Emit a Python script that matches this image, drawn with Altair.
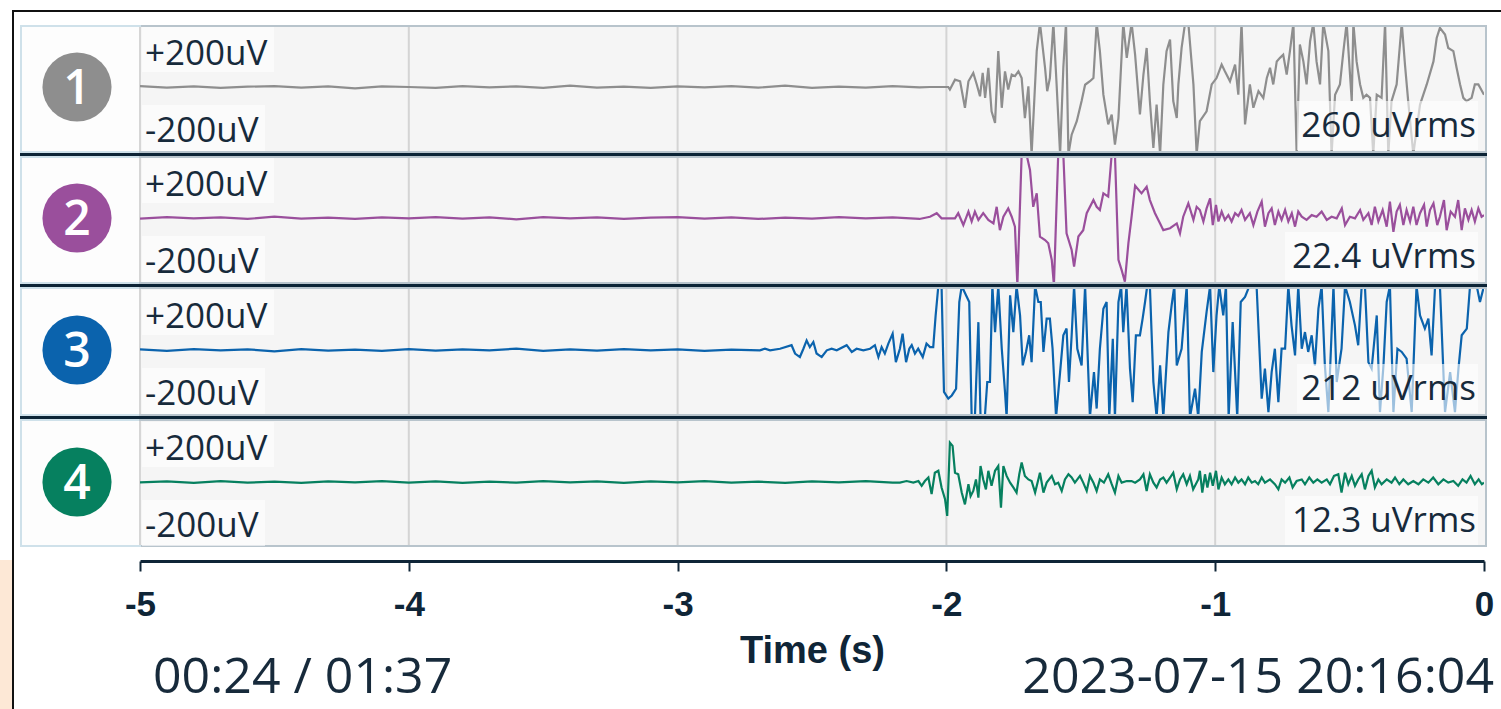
import math
import json
import altair as alt
import pandas as pd

# ---------------- data ----------------
CHANNELS = [1, 2, 3, 4]
COLORS = ["#8e8e8e", "#9a4f9c", "#0b63ad", "#06805f"]
RMS_LABELS = ["260 uVrms", "22.4 uVrms", "212 uVrms", "12.3 uVrms"]
SCALE_TOP = "+200uV"
SCALE_BOT = "-200uV"
X_TICKS = [-5, -4, -3, -2, -1, 0]
GRID_T = [-4, -3, -2, -1]
PLAYBACK = "00:24 / 01:37"
STAMP = "2023-07-15 20:16:04"
X_TITLE = "Time (s)"

QUIET_T = [-5.0, -4.9, -4.8, -4.7, -4.6, -4.5, -4.4, -4.3, -4.2, -4.1,
           -4.0, -3.9, -3.8, -3.7, -3.6, -3.5, -3.4, -3.3, -3.2, -3.1,
           -3.0, -2.9, -2.8, -2.7, -2.6, -2.5, -2.4, -2.3, -2.2, -2.1]
Q1 = [3, -2, 2, -3, 1, 3, -2, 2, -4, 2, 0, -3, 3, -1, 2, -3, 4, -2, 1, -3, 2, -1, 3, -2, 4, -3, 1, -2, 3, -1]
Q2 = [-2, 3, -1, 2, -3, 4, -2, 1, -3, 2, -1, 3, -2, 2, -4, 3, -1, 2, -3, 1, 3, -2, 2, -3, 1, -2, 3, -1, 2, -3]
Q3 = [2, -3, 3, -1, 2, -4, 3, -2, 1, -3, 3, -2, 2, -1, 4, -3, 2, -2, 3, -1, 2, -3, 1, -2]
Q4 = [-1, 2, -3, 3, -2, 1, -3, 2, -1, 3, -2, 2, -3, 1, -2, 3, -1, 2, -3, 2, -1, 3, -2, 1, -3, 2, -1, 3, -2]

CH1 = [(-2.061, 0), (-1.993, 0), (-1.987, -8), (-1.968, 23), (-1.949, 18), (-1.931, -65), (-1.918, 18),
       (-1.900, 44), (-1.887, 8), (-1.875, -29), (-1.865, 44), (-1.856, -34), (-1.844, 60), (-1.832, -76),
       (-1.819, -112), (-1.807, 112), (-1.794, -65), (-1.782, 49), (-1.770, -8), (-1.757, 39), (-1.745, 34),
       (-1.732, 49), (-1.720, 28), (-1.708, -97), (-1.695, 2), (-1.683, -300), (-1.664, 112), (-1.652, 300),
       (-1.633, 60), (-1.625, -13), (-1.615, 28), (-1.602, 300), (-1.590, 8), (-1.577, -300), (-1.565, 60),
       (-1.555, 300), (-1.546, -300), (-1.534, -149), (-1.515, -107), (-1.497, -44), (-1.484, 7), (-1.466, 18),
       (-1.453, 28), (-1.441, 300), (-1.429, 112), (-1.416, -24), (-1.398, -117), (-1.385, -86), (-1.373, -180),
       (-1.360, -97), (-1.342, 300), (-1.329, 91), (-1.311, 300), (-1.298, 101), (-1.280, -86), (-1.267, 39),
       (-1.255, 122), (-1.243, -44), (-1.230, -190), (-1.218, -55), (-1.205, -300), (-1.193, 7), (-1.181, 112),
       (-1.168, 148), (-1.156, -44), (-1.143, -97), (-1.137, 8), (-1.125, 122), (-1.112, 300), (-1.100, 300),
       (-1.081, 8), (-1.069, -300), (-1.057, -107), (-1.032, -76), (-1.013, 8), (-0.995, 28), (-0.976, 70),
       (-0.964, 49), (-0.945, 18), (-0.926, 70), (-0.914, -24), (-0.902, 300), (-0.889, -117), (-0.871, 8),
       (-0.858, -65), (-0.839, -13), (-0.821, -34), (-0.808, 28), (-0.796, 60), (-0.784, 8), (-0.771, 80),
       (-0.759, 91), (-0.747, 101), (-0.734, 39), (-0.722, 112), (-0.709, 300), (-0.697, -300), (-0.685, 133),
       (-0.672, 80), (-0.660, 8), (-0.647, 143), (-0.635, 300), (-0.623, 80), (-0.610, 8), (-0.598, 300),
       (-0.579, 112), (-0.567, -300), (-0.554, -24), (-0.536, 8), (-0.523, 112), (-0.511, 300), (-0.492, -44),
       (-0.486, 300), (-0.474, 80), (-0.461, 8), (-0.449, -34), (-0.437, -24), (-0.424, -34), (-0.412, -300),
       (-0.399, -24), (-0.381, -34), (-0.368, 300), (-0.356, -300), (-0.344, -44), (-0.325, 8), (-0.306, 300),
       (-0.294, 70), (-0.282, -44), (-0.263, -300), (-0.238, -55), (-0.213, 8), (-0.188, 80), (-0.176, 153),
       (-0.164, 185), (-0.145, 164), (-0.133, 122), (-0.114, 112), (-0.102, 60), (-0.089, 8), (-0.077, -34),
       (-0.065, -44), (-0.046, -34), (-0.034, 8), (-0.021, 8), (0.0, -24)]

CH2 = [(-2.061, 4), (-2.036, 15), (-2.018, -1), (-1.968, -1), (-1.956, 15), (-1.937, -22), (-1.918, 20),
       (-1.906, -11), (-1.894, 20), (-1.881, -6), (-1.863, 15), (-1.844, -6), (-1.825, -17), (-1.813, 35),
       (-1.801, -38), (-1.788, 4), (-1.770, 30), (-1.757, 4), (-1.745, -27), (-1.736, -300), (-1.720, 210),
       (-1.701, 195), (-1.689, 150), (-1.677, 35), (-1.664, 77), (-1.652, -58), (-1.633, -69), (-1.621, -79),
       (-1.608, -131), (-1.600, -300), (-1.584, 300), (-1.565, 300), (-1.553, -48), (-1.534, -100),
       (-1.525, -152), (-1.509, -58), (-1.491, -38), (-1.478, 15), (-1.453, 56), (-1.441, 35), (-1.429, 25),
       (-1.416, 77), (-1.398, 67), (-1.385, 300), (-1.373, 300), (-1.360, -131), (-1.348, -163),
       (-1.336, -199), (-1.323, -79), (-1.311, 4), (-1.298, 101), (-1.274, 77), (-1.255, 98), (-1.243, 56),
       (-1.224, 15), (-1.205, -17), (-1.193, -38), (-1.168, -32), (-1.143, -17), (-1.131, -48), (-1.119, 4),
       (-1.100, 46), (-1.081, -6), (-1.069, 35), (-1.057, 25), (-1.044, -11), (-1.032, 30), (-1.019, 61),
       (-1.009, -22), (-0.997, 41), (-0.988, -11), (-0.976, 20), (-0.964, -6), (-0.951, 9), (-0.939, -11),
       (-0.926, 15), (-0.914, 6), (-0.902, 25), (-0.889, -6), (-0.871, 15), (-0.858, -22), (-0.843, 20),
       (-0.827, 51), (-0.815, -27), (-0.802, 15), (-0.790, 30), (-0.778, -22), (-0.765, 20), (-0.753, -6),
       (-0.740, 25), (-0.728, -11), (-0.715, 15), (-0.703, -27), (-0.691, 20), (-0.678, 4), (-0.660, -6),
       (-0.641, 9), (-0.623, 4), (-0.604, 20), (-0.585, -6), (-0.567, 4), (-0.548, -1), (-0.529, 30),
       (-0.517, -22), (-0.499, 4), (-0.480, -1), (-0.461, 25), (-0.449, -6), (-0.430, 15), (-0.418, -22),
       (-0.406, 35), (-0.393, -11), (-0.377, 25), (-0.362, -27), (-0.350, 51), (-0.337, -43), (-0.325, 20),
       (-0.313, 41), (-0.300, -22), (-0.288, 25), (-0.275, -11), (-0.263, 35), (-0.251, -22), (-0.238, 15),
       (-0.223, 41), (-0.213, -27), (-0.201, 25), (-0.188, 46), (-0.174, -22), (-0.164, 4), (-0.149, 56),
       (-0.139, -38), (-0.124, 20), (-0.108, 4), (-0.096, 56), (-0.083, -38), (-0.071, 30), (-0.058, -6),
       (-0.046, 25), (-0.034, -11), (-0.021, 30), (-0.009, 4), (0.0, 9)]

CH3 = [(-2.694, -1), (-2.675, 4), (-2.656, -1), (-2.619, 4), (-2.576, 15), (-2.563, -11), (-2.545, -22),
       (-2.532, 4), (-2.520, 30), (-2.508, 9), (-2.495, 25), (-2.483, -11), (-2.464, -22), (-2.445, -1),
       (-2.427, 4), (-2.408, -1), (-2.371, 15), (-2.352, -6), (-2.334, 4), (-2.309, -1), (-2.284, 4),
       (-2.266, 15), (-2.253, -22), (-2.241, 9), (-2.229, -11), (-2.216, 20), (-2.200, 51), (-2.188, -38),
       (-2.173, 4), (-2.163, 51), (-2.150, -38), (-2.138, 4), (-2.129, 15), (-2.117, -11), (-2.105, 4),
       (-2.088, -22), (-2.074, 20), (-2.061, 9), (-2.049, 9), (-2.040, 108), (-2.030, 250), (-2.018, 250),
       (-2.009, -131), (-1.993, -152), (-1.980, -142), (-1.964, -121), (-1.952, 150), (-1.943, 250),
       (-1.927, 171), (-1.915, 150), (-1.906, -300), (-1.894, -300), (-1.881, 87), (-1.873, -300),
       (-1.857, -300), (-1.848, -100), (-1.838, -100), (-1.829, 300), (-1.819, 56), (-1.807, 300), (-1.794, 4),
       (-1.782, -131), (-1.776, -300), (-1.763, 171), (-1.751, 56), (-1.739, 300), (-1.726, 108), (-1.716, -48),
       (-1.704, -6), (-1.692, 46), (-1.683, -38), (-1.670, 300), (-1.658, 150), (-1.649, 150), (-1.639, -6),
       (-1.627, 98), (-1.615, 98), (-1.605, 4), (-1.592, -300), (-1.577, -69), (-1.565, 46), (-1.553, 67),
       (-1.544, -100), (-1.534, 46), (-1.525, 300), (-1.513, 4), (-1.497, -48), (-1.484, 300), (-1.466, -300),
       (-1.451, -69), (-1.441, -183), (-1.429, 4), (-1.416, 129), (-1.404, 150), (-1.394, -300), (-1.381, 35),
       (-1.373, -300), (-1.360, 150), (-1.350, 300), (-1.342, 56), (-1.330, 300), (-1.317, -58), (-1.307, -163),
       (-1.295, 46), (-1.280, 46), (-1.270, 98), (-1.261, 150), (-1.253, 300), (-1.243, 300), (-1.230, -100),
       (-1.218, -300), (-1.205, -48), (-1.193, -300), (-1.174, 56), (-1.162, 140), (-1.152, 300), (-1.143, -48),
       (-1.125, 4), (-1.106, 300), (-1.094, -300), (-1.075, -121), (-1.063, -300), (-1.050, -6), (-1.032, 119),
       (-1.019, 300), (-1.007, -69), (-0.995, 108), (-0.985, 300), (-0.970, 108), (-0.960, 300), (-0.950, -300),
       (-0.935, 87), (-0.918, -300), (-0.905, 150), (-0.889, 166), (-0.873, 300), (-0.846, 300), (-0.827, -152),
       (-0.815, -58), (-0.802, -194), (-0.790, -69), (-0.778, 4), (-0.765, -163), (-0.753, 4), (-0.740, 4),
       (-0.728, 250), (-0.716, 77), (-0.703, -17), (-0.691, 300), (-0.678, 4), (-0.666, 56), (-0.654, -6),
       (-0.641, 46), (-0.629, -48), (-0.616, 129), (-0.604, 300), (-0.592, -48), (-0.579, -194), (-0.560, 250),
       (-0.548, -100), (-0.530, 4), (-0.517, 300), (-0.499, 150), (-0.480, 77), (-0.468, 15), (-0.455, 300),
       (-0.443, 300), (-0.430, -38), (-0.418, -58), (-0.399, 108), (-0.387, -194), (-0.374, -48), (-0.362, 150),
       (-0.350, 300), (-0.337, -194), (-0.322, 4), (-0.306, -6), (-0.288, -27), (-0.269, -194), (-0.251, 300),
       (-0.238, 108), (-0.220, 67), (-0.207, 98), (-0.195, -17), (-0.182, 300), (-0.164, 300), (-0.145, -194),
       (-0.126, -69), (-0.108, -194), (-0.095, -58), (-0.083, 46), (-0.064, 67), (-0.052, 300), (-0.040, 300),
       (-0.027, 300), (-0.015, 150), (0.0, 250)]

CH4 = [(-2.173, -2), (-2.148, 3), (-2.123, -2), (-2.104, 3), (-2.092, -12), (-2.080, 3), (-2.067, 14),
       (-2.055, -38), (-2.043, 29), (-2.030, 35), (-2.018, -17), (-2.005, -54), (-1.997, -106), (-1.987, 123),
       (-1.977, 113), (-1.968, 29), (-1.956, 24), (-1.943, -33), (-1.931, -70), (-1.918, -7), (-1.910, -44),
       (-1.900, -28), (-1.890, 8), (-1.881, -49), (-1.873, 50), (-1.863, 8), (-1.853, -23), (-1.844, 35),
       (-1.832, -12), (-1.819, 35), (-1.807, 50), (-1.797, -80), (-1.788, 50), (-1.776, 19), (-1.763, -2),
       (-1.751, -17), (-1.739, -33), (-1.729, 24), (-1.720, 61), (-1.708, 19), (-1.695, 8), (-1.683, 3),
       (-1.670, -33), (-1.658, 8), (-1.652, 29), (-1.639, -33), (-1.627, -2), (-1.608, 19), (-1.596, -7),
       (-1.584, -2), (-1.571, -28), (-1.559, 8), (-1.546, 24), (-1.534, 14), (-1.522, -2), (-1.503, 19),
       (-1.491, -2), (-1.478, -28), (-1.466, 19), (-1.453, -2), (-1.441, -28), (-1.429, 8), (-1.414, -2),
       (-1.398, 24), (-1.385, -7), (-1.373, -33), (-1.360, 19), (-1.348, -2), (-1.329, 3), (-1.311, 3),
       (-1.298, -2), (-1.280, 8), (-1.267, 24), (-1.255, -28), (-1.243, 24), (-1.230, -2), (-1.218, -17),
       (-1.205, 8), (-1.193, 14), (-1.181, -2), (-1.168, 14), (-1.156, 29), (-1.143, -23), (-1.131, 8),
       (-1.119, 24), (-1.106, -7), (-1.094, 19), (-1.082, -23), (-1.063, 8), (-1.057, 35), (-1.048, -33),
       (-1.038, 24), (-1.029, -17), (-1.019, 29), (-1.009, -12), (-0.997, 35), (-0.988, -23), (-0.976, 14),
       (-0.964, -7), (-0.951, 8), (-0.939, -7), (-0.926, 14), (-0.914, -2), (-0.902, 8), (-0.889, -7),
       (-0.877, 14), (-0.864, -2), (-0.852, 3), (-0.840, -7), (-0.827, 14), (-0.815, -2), (-0.796, 8),
       (-0.778, -7), (-0.765, -23), (-0.753, 8), (-0.740, -2), (-0.724, 14), (-0.712, -17), (-0.697, 3),
       (-0.678, 8), (-0.666, -7), (-0.650, 14), (-0.635, -2), (-0.620, 8), (-0.604, -2), (-0.585, 8),
       (-0.573, -7), (-0.558, 19), (-0.542, 24), (-0.530, -33), (-0.517, 29), (-0.505, -7), (-0.492, 19),
       (-0.480, -12), (-0.468, 8), (-0.455, 24), (-0.443, -23), (-0.430, 19), (-0.418, 35), (-0.406, -17),
       (-0.393, 8), (-0.381, -7), (-0.362, 8), (-0.344, -2), (-0.331, 14), (-0.315, -7), (-0.300, 8),
       (-0.282, -7), (-0.263, 3), (-0.244, -7), (-0.226, 8), (-0.207, -2), (-0.189, 14), (-0.170, -7),
       (-0.151, 8), (-0.133, -2), (-0.114, 3), (-0.096, -12), (-0.080, 8), (-0.065, -2), (-0.050, 19),
       (-0.034, -7), (-0.020, 8), (-0.008, -7), (0.0, -2)]

QUIET = [Q1, Q2, Q3, Q4]
ACTIVE = [CH1, CH2, CH3, CH4]

# ---------------- layout (pixels) ----------------
W, H = 1344, 520
PADL, PADT = 140, 25
ROW_CENTER = [87, 218, 350, 482]          # baseline of each trace
SEPARATORS = [154.5, 285.5, 417.5]
UV_PER_PX = 200 / 64.0
TEXT = "#172a3b"
AXIS_C = "#0f2537"

rows = []
for ch, q, act in zip(CHANNELS, QUIET, ACTIVE):
    t0 = act[0][0]
    for t, v in zip(QUIET_T, q):
        if t < t0 - 0.02:
            rows.append({"t": t, "v": v, "ch": ch})
    for t, v in act:
        rows.append({"t": t, "v": v, "ch": ch})
df = pd.DataFrame(rows)

offsets = [round((H - (c - PADT)) * UV_PER_PX, 3) for c in ROW_CENTER]
y_expr = "clamp(datum.v, -210, 200) + " + json.dumps(offsets) + "[datum.ch - 1]"

ONE = pd.DataFrame({"k": [0]})


def ax(x):
    return x - PADL


def ay(y):
    return y - PADT


def rect(x1, y1, x2, y2, color, opacity=1.0):
    return alt.Chart(ONE).mark_rect(color=color, opacity=opacity).encode(
        x=alt.value(ax(x1)), x2=alt.value(ax(x2)), y=alt.value(ay(y1)), y2=alt.value(ay(y2)))


def text(s, x, y, align, size, color, font="Open Sans", weight="normal"):
    return alt.Chart(ONE).mark_text(
        text=s, align=align, baseline="alphabetic", font=font, fontSize=size,
        fontWeight=weight, color=color).encode(x=alt.value(ax(x)), y=alt.value(ay(y)))


AXIS = alt.Axis(
    values=X_TICKS, labelExpr="'' + datum.value", offset=16, grid=False,
    domainColor=AXIS_C, domainWidth=3, tickColor=AXIS_C, tickWidth=2, tickSize=10,
    labelFont="Liberation Sans", labelFontWeight="bold", labelFontSize=35, labelColor=AXIS_C,
    labelPadding=16, labelFlush=False, labelOverlap=False,
    title=X_TITLE, titleFont="Liberation Sans", titleFontWeight="bold", titleFontSize=38,
    titleColor=AXIS_C, titlePadding=10)
XENC = alt.X("t:Q", scale=alt.Scale(domain=[-5, 0], nice=False, zero=False), axis=AXIS)

layers = []
# outer frame and faint background outside it
layers.append(rect(0, 560, 12, 709, "#fde8d6"))
layers.append(rect(12, 10, 1501, 12, "#111111"))
layers.append(rect(12, 10, 14, 709, "#111111"))
# row block backgrounds
layers.append(rect(20, 25, 1487, 547, "#b8c4cc"))
layers.append(rect(20, 25, 141, 547, "#cfe1ea"))
row_bounds = [(27, 151), (158, 282), (289, 414), (421, 545)]
for (top, bot) in row_bounds:
    layers.append(rect(22, top, 139, bot, "#fdfdfd"))
    layers.append(rect(141, top, 1485, bot, "#f5f5f5"))
    layers.append(rect(139, top, 141, bot, "#d6d6d6"))

# vertical grid lines through the x scale
layers.append(alt.Chart(pd.DataFrame({"t": GRID_T})).mark_rule(color="#d4d4d4", strokeWidth=2).encode(
    x=XENC, y=alt.value(0), y2=alt.value(H)))

# traces
layers.append(alt.Chart(df).transform_calculate(yy=y_expr).mark_line(strokeWidth=2.2, clip=True).encode(
    x=XENC,
    y=alt.Y("yy:Q", scale=alt.Scale(domain=[0, H * UV_PER_PX], nice=False, zero=False), axis=None),
    color=alt.Color("ch:N", scale=alt.Scale(domain=CHANNELS, range=COLORS), legend=None),
    order=alt.Order("t:Q")))

# borders drawn over traces
layers.append(rect(141, 25, 1487, 27, "#b8c4cc"))
layers.append(rect(141, 545, 1487, 547, "#b8c4cc"))
layers.append(rect(1485, 25, 1487, 547, "#b8c4cc"))
for s in SEPARATORS:
    layers.append(rect(20, s - 3.5, 139, s + 3.5, "#cfe1ea"))
    layers.append(rect(139, s - 3.5, 1487, s + 3.5, "#b8c4cc"))
    layers.append(rect(20, s - 1.5, 1487, s + 1.5, "#0c2436"))

# labels, boxes and badges
RMS_BOX_W = [181, 193, 181, 193]
for i, c in enumerate(ROW_CENTER):
    layers.append(rect(142, c - 60, 274, c - 15, "#ffffff", 0.6))
    layers.append(rect(142, c + 18, 265, c + 64, "#ffffff", 0.6))
    layers.append(rect(1478 - RMS_BOX_W[i], c + 14, 1478, c + 63, "#ffffff", 0.6))
    layers.append(text(SCALE_TOP, 145, c - 22, "left", 35, TEXT))
    layers.append(text(SCALE_BOT, 145, c + 55, "left", 35, TEXT))
    layers.append(text(RMS_LABELS[i], 1476, c + 50, "right", 35, TEXT))
    layers.append(alt.Chart(ONE).mark_circle(size=math.pi * 39 ** 2, color=COLORS[i], opacity=1).encode(
        x=alt.value(ax(77)), y=alt.value(ay(c))))
    layers.append(text(str(CHANNELS[i]), 77, c + 17, "center", 48, "#ffffff", weight=600))

# footer texts
layers.append(text(PLAYBACK, 153, 693, "left", 50, TEXT))
layers.append(text(STAMP, 1494, 693, "right", 50, TEXT))

chart = alt.layer(*layers).properties(
    width=W, height=H,
    padding={"left": PADL, "top": PADT, "right": 1501 - PADL - W, "bottom": 709 - PADT - H},
    autosize=alt.AutoSizeParams(type="none"),
    background="#ffffff",
).configure_view(stroke=None)

chart.save("out.html", embed_options={"renderer": "svg", "actions": False})
